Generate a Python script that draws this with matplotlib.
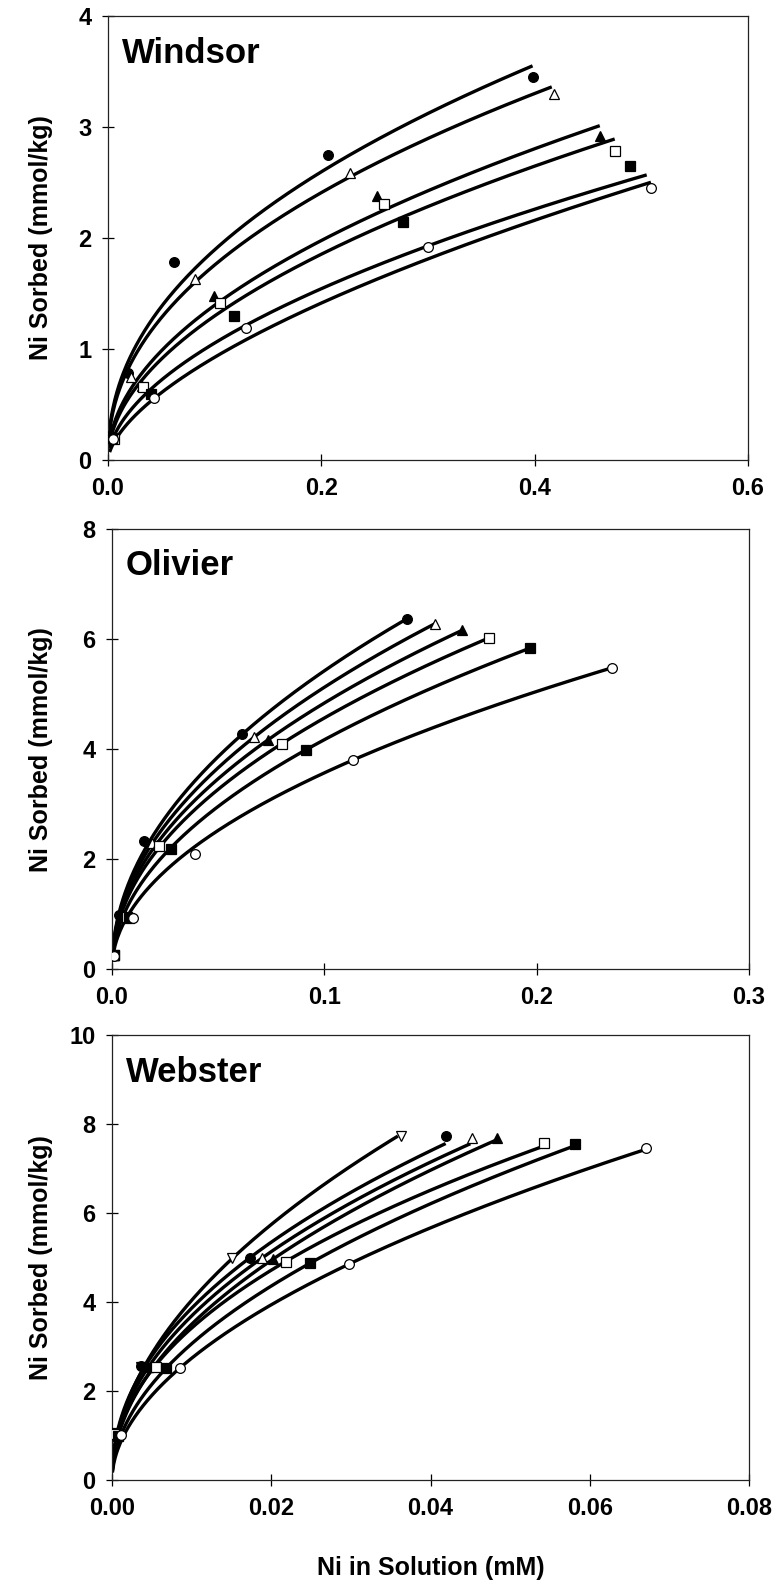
import matplotlib
matplotlib.use('Agg')
import matplotlib.pyplot as plt
import numpy as np

plt.rcParams['font.family'] = ['Liberation Sans', 'DejaVu Sans']
plt.rcParams['font.weight'] = 'bold'

# marker styles, in legend order of the original figure
series_names = ['filled circle', 'open triangle', 'filled triangle', 'open square', 'filled square', 'open circle']

# ---- Windsor ----
windsor_x = [
    [0.001, 0.019, 0.062, 0.206, 0.398],
    [0.004, 0.022, 0.082, 0.227, 0.418],
    [0.004, 0.032, 0.0995, 0.252, 0.461],
    [0.006, 0.033, 0.105, 0.259, 0.475],
    [0.004, 0.040, 0.118, 0.277, 0.489],
    [0.005, 0.043, 0.129, 0.300, 0.509],
]
windsor_y = [
    [0.22, 0.78, 1.78, 2.75, 3.45],
    [0.21, 0.75, 1.63, 2.59, 3.30],
    [0.20, 0.67, 1.48, 2.38, 2.92],
    [0.19, 0.66, 1.41, 2.31, 2.78],
    [0.20, 0.59, 1.30, 2.14, 2.65],
    [0.19, 0.56, 1.19, 1.92, 2.45],
]
# fitted isotherm curves (q = K * C^n)
windsor_K = [5.40, 5.01, 4.45, 4.24, 3.74, 3.78]
windsor_n = [0.455, 0.455, 0.504, 0.514, 0.55, 0.611]
windsor_cmax = [0.398, 0.416, 0.461, 0.475, 0.505, 0.509]

# ---- Olivier ----
olivier_x = [
    [0.0004, 0.0034, 0.015, 0.0614, 0.139],
    [0.001, 0.006, 0.019, 0.067, 0.152],
    [0.001, 0.005, 0.021, 0.0736, 0.165],
    [0.001, 0.007, 0.022, 0.080, 0.1774],
    [0.001, 0.008, 0.028, 0.0914, 0.197],
    [0.001, 0.010, 0.039, 0.1134, 0.2356],
]
olivier_y = [
    [0.26, 0.98, 2.32, 4.27, 6.37],
    [0.25, 0.96, 2.29, 4.22, 6.28],
    [0.25, 0.96, 2.26, 4.17, 6.16],
    [0.25, 0.95, 2.23, 4.10, 6.02],
    [0.25, 0.93, 2.18, 3.99, 5.84],
    [0.24, 0.92, 2.10, 3.80, 5.48],
]
olivier_K = [16.74, 15.66, 14.72, 13.86, 13.07, 11.30]
olivier_n = [0.4895, 0.4852, 0.4833, 0.4823, 0.4961, 0.5007]
olivier_cmax = [0.139, 0.152, 0.165, 0.1774, 0.197, 0.2356]

# ---- Webster (extra open down-triangle series first) ----
webster_x = [
    [0.0002, 0.0036, 0.0151, 0.0363],
    [0.0002, 0.0036, 0.0173, 0.0419],
    [0.0003, 0.0045, 0.0188, 0.0452],
    [0.0004, 0.0045, 0.0202, 0.0483],
    [0.0003, 0.0055, 0.0218, 0.0542],
    [0.0008, 0.0068, 0.0249, 0.0581],
    [0.0011, 0.0085, 0.0298, 0.0670],
]
webster_y = [
    [1.05, 2.55, 4.98, 7.73],
    [1.05, 2.56, 5.00, 7.73],
    [1.04, 2.55, 4.98, 7.69],
    [1.03, 2.54, 4.96, 7.68],
    [1.04, 2.53, 4.91, 7.58],
    [1.00, 2.51, 4.88, 7.54],
    [1.01, 2.51, 4.85, 7.47],
]
webster_K = [41.85, 33.48, 33.15, 34.32, 29.15, 32.04, 30.69]
webster_n = [0.5077, 0.469, 0.4768, 0.4956, 0.4656, 0.5098, 0.5248]
webster_cmax = [0.0359, 0.0419, 0.045, 0.0483, 0.054, 0.058, 0.067]

six_markers = [('o', 'black'), ('^', 'white'), ('^', 'black'),
               ('s', 'white'), ('s', 'black'), ('o', 'white')]
seven_markers = [('v', 'white')] + six_markers


def draw_panel(ax, name, xs, ys, Ks, ns, cmaxs, cmin, markers,
               xlim, xticks, xfmt, ylim, yticks):
    for K, n, cmax in zip(Ks, ns, cmaxs):
        c = np.linspace(cmin, cmax, 400)
        ax.plot(c, K * c ** n, color='black', lw=2.4, zorder=2,
                solid_capstyle='butt')
    for (m, fc), x, y in zip(markers, xs, ys):
        size = 7.5 if m in ('^', 'v') else 7
        ax.plot(x, y, linestyle='none', marker=m, ms=size, mfc=fc,
                mec='black', mew=0.9, zorder=3)

    ax.set_xlim(xlim)
    ax.set_ylim(ylim)
    ax.set_xticks(xticks)
    ax.set_xticklabels([xfmt.format(t) for t in xticks])
    ax.set_yticks(yticks)
    ax.set_yticklabels([str(t) for t in yticks])
    ax.tick_params(direction='inout', length=8, width=0.9, pad=8,
                   labelsize=17, colors='black')
    for sp in ax.spines.values():
        sp.set_linewidth(0.9)
        sp.set_color('#222222')
    ax.text(0.022, 0.895, name, transform=ax.transAxes, fontsize=25,
            fontweight='bold', va='baseline', ha='left')
    ax.set_ylabel('Ni Sorbed (mmol/kg)', fontsize=18, fontweight='bold')


fig = plt.figure(figsize=(7.8, 15.85), dpi=100)

ax1 = fig.add_axes([0.1385, 0.7098, 0.8205, 0.2801])
draw_panel(ax1, 'Windsor', windsor_x, windsor_y, windsor_K, windsor_n,
           windsor_cmax, 0.0015, six_markers,
           (0, 0.6), [0, 0.2, 0.4, 0.6], '{:.1f}', (0, 4), [0, 1, 2, 3, 4])
ax1.yaxis.set_label_coords(-0.086, 0.5)

ax2 = fig.add_axes([0.1436, 0.3886, 0.8167, 0.2776])
draw_panel(ax2, 'Olivier', olivier_x, olivier_y, olivier_K, olivier_n,
           olivier_cmax, 0.0003, six_markers,
           (0, 0.3), [0, 0.1, 0.2, 0.3], '{:.1f}', (0, 8), [0, 2, 4, 6, 8])
ax2.yaxis.set_label_coords(-0.0926, 0.5)

ax3 = fig.add_axes([0.1436, 0.0662, 0.8167, 0.2808])
draw_panel(ax3, 'Webster', webster_x, webster_y, webster_K, webster_n,
           webster_cmax, 0.00005, seven_markers,
           (0, 0.08), [0, 0.02, 0.04, 0.06, 0.08], '{:.2f}', (0, 10),
           [0, 2, 4, 6, 8, 10])
ax3.yaxis.set_label_coords(-0.0926, 0.5)
ax3.set_xlabel('Ni in Solution (mM)', fontsize=18, fontweight='bold',
               labelpad=26)

fig.savefig('out.png', dpi=100)
